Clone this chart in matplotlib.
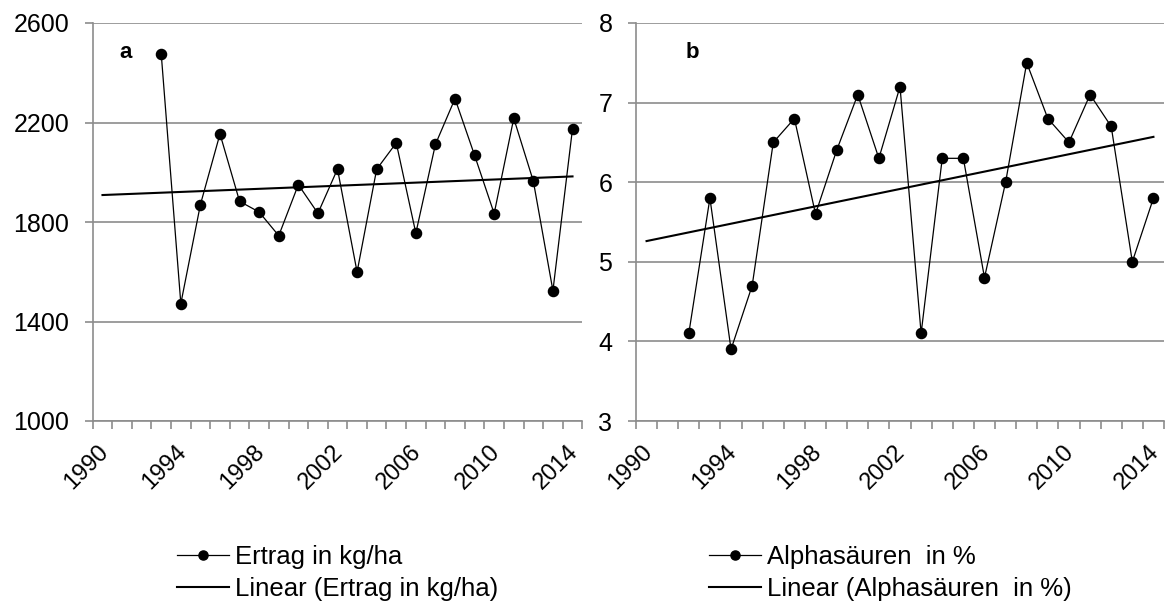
import numpy as np
import matplotlib.pyplot as plt
from matplotlib.transforms import ScaledTranslation

plt.rcParams['font.family'] = ['Liberation Sans', 'DejaVu Sans']

years = list(range(1990, 2015))
tick_years = [1990, 1994, 1998, 2002, 2006, 2010, 2014]

# yield, kg/ha (1993-2014)
ertrag_years = list(range(1993, 2015))
ertrag = [2475, 1472, 1870, 2154, 1883, 1840, 1745, 1950, 1835, 2013, 1599,
          2012, 2118, 1755, 2112, 2296, 2068, 1834, 2217, 1964, 1524, 2175]

# alpha acids, % (1992-2014)
alpha_years = list(range(1992, 2015))
alpha = [4.1, 5.8, 3.9, 4.7, 6.5, 6.8, 5.6, 6.4, 7.1, 6.3, 7.2, 4.1, 6.3,
         6.3, 4.8, 6.0, 7.5, 6.8, 6.5, 7.1, 6.7, 5.0, 5.8]

GRID = '#8c8c8c'


def panel(ax, xs, ys, ylim, yticks, letter, letter_x, label, legend_x):
    fig = ax.figure
    idx = np.array([years.index(y) for y in xs])
    ax.plot(idx, ys, color='black', lw=0.9, marker='o', ms=7.3,
            label=label)
    # linear trend over the category index, drawn across the whole axis
    k, d = np.polyfit(idx, ys, 1)
    full = np.array([0, len(years) - 1])
    ax.plot(full, k * full + d, color='black', lw=1.5,
            label='Linear (' + label + ')')

    ax.set_xlim(-0.5, len(years) - 0.5)
    ax.set_ylim(*ylim)
    ax.set_yticks(yticks)
    ax.yaxis.grid(True, color=GRID, lw=1.2)
    ax.set_axisbelow(True)

    ax.set_xticks([years.index(y) for y in tick_years])
    ax.set_xticklabels([str(y) for y in tick_years], rotation=45,
                       ha='right', rotation_mode='anchor')
    ax.set_xticks(np.arange(-0.5, len(years), 1), minor=True)
    ax.tick_params(axis='x', which='major', length=0, pad=14, labelsize=17)
    ax.tick_params(axis='x', which='minor', length=5.5, color=GRID, width=1.2)
    ax.tick_params(axis='y', length=5.5, color=GRID, width=1.2, pad=11.5,
                   labelsize=18)
    shift = ScaledTranslation(-4 / 72, 0, fig.dpi_scale_trans)
    for t in ax.get_xticklabels():
        t.set_transform(t.get_transform() + shift)

    for s in ('top', 'right'):
        ax.spines[s].set_visible(False)
    for s in ('left', 'bottom'):
        ax.spines[s].set_color(GRID)
        ax.spines[s].set_linewidth(1.2)

    ax.text(letter_x, 0.927, letter, transform=ax.transAxes, fontsize=16,
            fontweight='bold', ha='left', va='center')

    ax.legend(loc='upper left', bbox_to_anchor=(legend_x, 0.1036),
              bbox_transform=fig.transFigure, frameon=False,
              fontsize=18.5, handlelength=2.02, handletextpad=0.23,
              borderpad=0, borderaxespad=0, labelspacing=0.31,
              markerscale=0.9)


fig = plt.figure(figsize=(11.68, 6.08), dpi=100)
ax1 = fig.add_axes([92.7 / 1168, 1 - 421 / 608, 489.6 / 1168, 398 / 608])
ax2 = fig.add_axes([636 / 1168, 1 - 421 / 608, 528 / 1168, 398 / 608])

panel(ax1, ertrag_years, ertrag, (1000, 2600), [1000, 1400, 1800, 2200, 2600],
      'a', 0.054, 'Ertrag in kg/ha', 177 / 1168)
panel(ax2, alpha_years, alpha, (3, 8), [3, 4, 5, 6, 7, 8],
      'b', 0.093, 'Alphasäuren  in %', 709 / 1168)

fig.savefig('out.png', dpi=100)
